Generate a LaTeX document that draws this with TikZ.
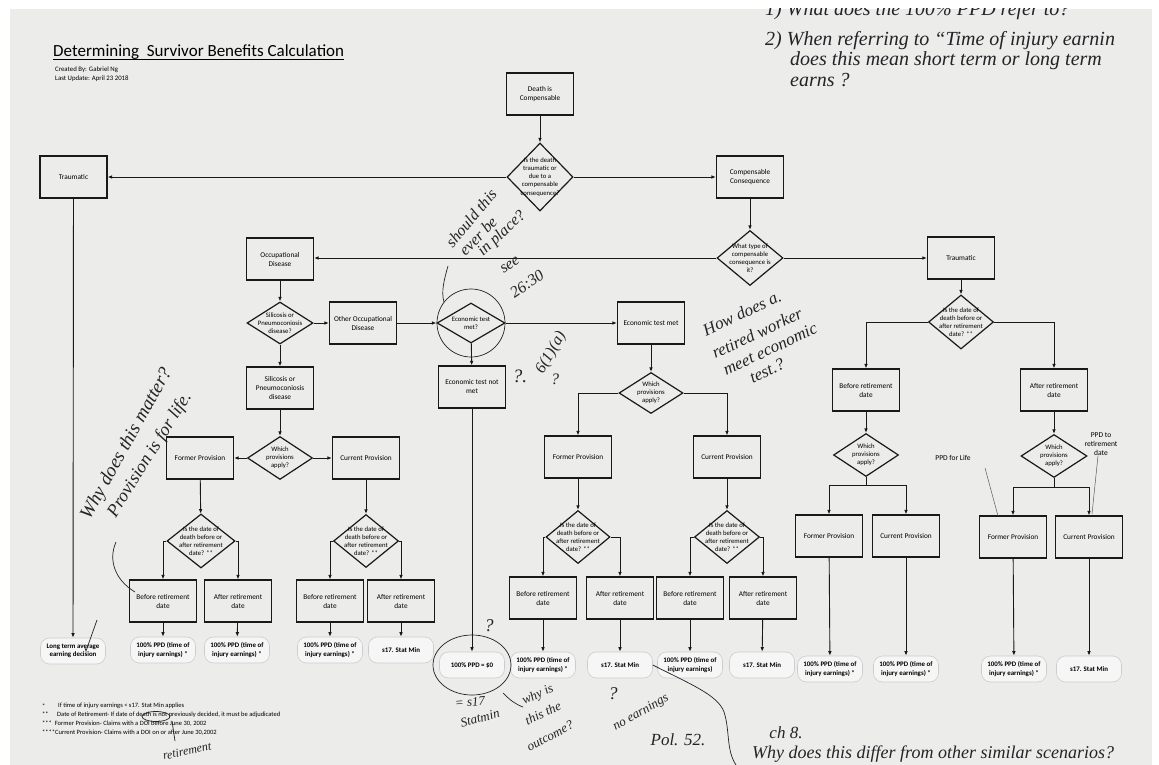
\documentclass[tikz,border=0pt]{standalone}
\usepackage{fontspec}
\setmainfont{Carlito}
\newfontfamily\handfont{Liberation Serif}
\usetikzlibrary{shapes.geometric,arrows.meta}
\definecolor{paper}{RGB}{236,236,234}
\definecolor{ink}{RGB}{25,25,25}
\definecolor{pen}{RGB}{35,35,40}
\tikzset{
  box/.style={draw=ink, line width=1.2pt, minimum width=67pt, minimum height=42pt, inner sep=1pt, align=center, font=\fontsize{7.3}{9}\selectfont},
  dia/.style={draw=ink, line width=1.2pt, diamond, inner sep=0pt},
  dtext/.style={font=\fontsize{6.7}{8.2}\selectfont, align=center, inner sep=0pt},
  term/.style={draw=gray!40, fill=white!55!paper, line width=0.6pt, rounded corners=9pt, minimum width=65pt, minimum height=26pt, inner sep=1pt, align=center, font=\bfseries\fontsize{6.9}{8.3}\selectfont},
  arr/.style={draw=ink, line width=0.9pt, -{Latex[length=4.5pt,width=3.6pt]}},
  ln/.style={draw=ink, line width=0.9pt},
  hand/.style={text=pen, font=\handfont\itshape\fontsize{16}{17}\selectfont, inner sep=0pt},
  pline/.style={draw=pen, line width=0.7pt},
  note/.style={font=\fontsize{6.5}{8}\selectfont, inner sep=0pt, anchor=west},
  glab/.style={font=\fontsize{7.5}{9}\selectfont, align=center, inner sep=0pt},
  gline/.style={draw=gray!70!black, line width=0.5pt},
}
\newcommand\dnode[5]{\node[dia, minimum width=#3, minimum height=#4] (#1) at #2 {};
  \node[dtext] (#1t) at (#1) {#5};}
\begin{document}
\begin{tikzpicture}[x=1pt,y=-1pt]
\useasboundingbox (0,0) rectangle (1159,765);
\fill[white] (0,0) rectangle (1159,765);
\fill[paper] (10,9) rectangle (1152,765);

% title
\node[anchor=base west, inner sep=0pt, font=\fontsize{17}{20}\selectfont] (title) at (53,57) {Determining\ \ Survivor Benefits Calculation};
\draw[line width=0.8pt] ([yshift=-2pt]title.base west) -- ([yshift=-2pt]title.base east);
\node[note, font=\fontsize{6.8}{8}\selectfont] (cb) at (55,70) {Created By: Gabriel Ng};
\node[note, font=\fontsize{6.8}{8}\selectfont] (lu) at (55,78.5) {Last Update: April 23 2018};

% top part
\node[box] (dc) at (540,94) {Death is\\Compensable};
\dnode{d1}{(540,177)}{66pt}{68pt}{Is the death\\traumatic or\\due to a\\compensable\\consequence?}
\node[box] (trL) at (73.5,177) {Traumatic};
\node[box] (cc) at (750,177) {Compensable\\Consequence};
\dnode{d2}{(750,258)}{66pt}{55pt}{What type of\\compensable\\consequence is\\it?}
\node[box] (trR) at (961,258) {Traumatic};
\node[box] (od) at (280,259) {Occupational\\Disease};
\dnode{dsil}{(280,323)}{66pt}{42pt}{Silicosis or\\Pneumoconiosis\\disease?}
\node[box] (ood) at (363,323) {Other Occupational\\Disease};
\dnode{dec}{(471,323)}{68pt}{40pt}{Economic test\\met?}
\node[box] (etm) at (651,323) {Economic test met};
\node[box] (etn) at (472,387) {Economic test not\\met};
\node[box] (sil) at (280,388) {Silicosis or\\Pneumoconiosis\\disease};

% left branch
\dnode{wpA}{(280,458)}{65pt}{43pt}{Which\\provisions\\apply?}
\node[box] (fpA) at (200,458) {Former Provision};
\node[box] (cpA) at (366,458) {Current Provision};
\dnode{ddA1}{(201,541)}{68pt}{54pt}{Is the date of\\death before or\\after retirement\\date? **}
\dnode{ddA2}{(366,541)}{65pt}{53pt}{Is the date of\\death before or\\after retirement\\date? **}
\node[box] (brA1) at (163,601) {Before retirement\\date};
\node[box] (arA1) at (238,601) {After retirement\\date};
\node[box] (brA2) at (330,601) {Before retirement\\date};
\node[box] (arA2) at (401,601) {After retirement\\date};
\node[term] (tLT) at (73,651) {Long term average\\earning decision};
\node[term] (tA1) at (163,650) {100\% PPD (time of\\injury earnings) *};
\node[term] (tA2) at (237,650) {100\% PPD (time of\\injury earnings) *};
\node[term] (tA3) at (330,650) {100\% PPD (time of\\injury earnings) *};
\node[term] (tA4) at (401,650) {s17. Stat Min};

% middle branch
\node[term] (t0) at (472,665) {100\% PPD = \$0};
\dnode{wpB}{(651,393)}{64pt}{41pt}{Which\\provisions\\apply?}
\node[box] (fpB) at (578,457) {Former Provision};
\node[box] (cpB) at (727,457) {Current Provision};
\dnode{ddB1}{(578,537)}{64pt}{53pt}{Is the date of\\death before or\\after retirement\\date? **}
\dnode{ddB2}{(727,537)}{65pt}{53pt}{Is the date of\\death before or\\after retirement\\date? **}
\node[box] (brB1) at (543,598) {Before retirement\\date};
\node[box] (arB1) at (620,598) {After retirement\\date};
\node[box] (brB2) at (690,598) {Before retirement\\date};
\node[box] (arB2) at (763,598) {After retirement\\date};
\node[term] (tB1) at (543,665) {100\% PPD (time of\\injury earnings) *};
\node[term] (tB2) at (620,665) {s17. Stat Min};
\node[term] (tB3) at (690,665) {100\% PPD (time of\\injury earnings)};
\node[term] (tB4) at (762,665) {s17. Stat Min};

% right branch
\dnode{ddC}{(961,322)}{65pt}{54pt}{Is the date of\\death before or\\after retirement\\date? **}
\node[box] (brC) at (866,390) {Before retirement\\date};
\node[box] (arC) at (1054,390) {After retirement\\date};
\dnode{wpC1}{(866,455)}{65pt}{43pt}{Which\\provisions\\apply?}
\dnode{wpC2}{(1054,456)}{66pt}{43pt}{Which\\provisions\\apply?}
\coordinate (jC1) at (866,485);
\coordinate (jC2) at (1054,487);
\node[box] (fpC1) at (829,536) {Former Provision};
\node[box] (cpC1) at (906,536) {Current Provision};
\node[box] (fpC2) at (1013,537) {Former Provision};
\node[box] (cpC2) at (1089,537) {Current Provision};
\node[term] (tC1) at (830,669) {100\% PPD (time of\\injury earnings) *};
\node[term] (tC2) at (906,669) {100\% PPD (time of\\injury earnings) *};
\node[term] (tC3) at (1014,669) {100\% PPD (time of\\injury earnings) *};
\node[term] (tC4) at (1089,669) {s17. Stat Min};

\node[glab] (ppdl) at (953,458) {PPD for Life};
\node[glab] (ppdr) at (1101,444) {PPD to\\retirement\\date};
\coordinate (pl1) at (985,468);
\coordinate (pl2) at (998,516);
\coordinate (pr2) at (1092,514);
\draw[gline] (pl1) -- (pl2);
\draw[gline] ([xshift=-3pt]ppdr.south) -- (pr2);

% connectors top
\draw[arr] (dc) -- (d1);
\draw[arr] (d1.west) -- (trL.east);
\draw[arr] (d1.east) -- (cc.west);
\draw[arr] (cc) -- (d2);
\draw[arr] (d2.east) -- (trR.west);
\draw[arr] (d2.west) -- (d2.west -| od.east);
\draw[arr] (od) -- (dsil);
\draw[arr] (dsil.east) -- (ood.west);
\draw[arr] (dsil) -- (sil);
\draw[arr] (ood.east) -- (dec.west);
\draw[arr] (dec.east) -- (etm.west);
\draw[arr] (dec) -- (etn);
\draw[arr] (etn) -- (t0);
\draw[arr] (trL) -- (tLT);

% left
\draw[arr] (sil) -- (wpA);
\draw[arr] (wpA.west) -- (fpA.east);
\draw[arr] (wpA.east) -- (cpA.west);
\draw[arr] (fpA) -- (ddA1);
\draw[arr] (cpA) -- (ddA2);
\draw[arr] (ddA1.west) -| (brA1.north);
\draw[arr] (ddA1.east) -| (arA1.north);
\draw[arr] (ddA2.west) -| (brA2.north);
\draw[arr] (ddA2.east) -| (arA2.north);
\draw[arr] (brA1) -- (tA1);
\draw[arr] (arA1) -- (tA2);
\draw[arr] (brA2) -- (tA3);
\draw[arr] (arA2) -- (tA4);

% middle
\draw[arr] (etm) -- (wpB);
\draw[arr] (wpB.west) -| (fpB.north);
\draw[arr] (wpB.east) -| (cpB.north);
\draw[arr] (fpB) -- (ddB1);
\draw[arr] (cpB) -- (ddB2);
\draw[arr] (ddB1.west) -| (brB1.north);
\draw[arr] (ddB1.east) -| (arB1.north);
\draw[arr] (ddB2.west) -| (brB2.north);
\draw[arr] (ddB2.east) -| (arB2.north);
\draw[arr] (brB1) -- (tB1);
\draw[arr] (arB1) -- (tB2);
\draw[arr] (brB2) -- (tB3);
\draw[arr] (arB2) -- (tB4);

% right
\draw[arr] (trR) -- (ddC);
\draw[arr] (ddC.west) -| (brC.north);
\draw[arr] (ddC.east) -| (arC.north);
\draw[arr] (brC) -- (wpC1);
\draw[arr] (arC) -- (wpC2);
\draw[ln] (wpC1.south) -- (jC1);
\draw[ln] (wpC2.south) -- (jC2);
\draw[arr] (jC1) -| (fpC1.north);
\draw[arr] (jC1) -| (cpC1.north);
\draw[arr] (jC2) -| (fpC2.north);
\draw[arr] (jC2) -| (cpC2.north);
\draw[arr] (fpC1) -- (tC1);
\draw[arr] (cpC1) -- (tC2);
\draw[arr] (fpC2) -- (tC3);
\draw[arr] (cpC2) -- (tC4);

% footnotes
\node[note] (f1s) at (42,706) {*};
\node[note] (f1) at (58,706) {If time of injury earnings < s17. Stat Min applies};
\node[note] (f2s) at (42,714.5) {**};
\node[note] (f2) at (57,714.5) {Date of Retirement- If date of death is not previously decided, it must be adjudicated};
\node[note] (f3) at (42,723.5) {***\ \ Former Provision- Claims with a DOI before June 30, 2002};
\node[note] (f4) at (42,732.5) {****Current Provision- Claims with a DOI on or after June 30,2002};

% handwriting
\begin{scope}
\clip (10,9) rectangle (1152,765);
\node[hand, anchor=west, font=\handfont\itshape\fontsize{20}{20}\selectfont] (h1) at (765,11) {1) What does the 100\% PPD refer to?};
\node[hand, anchor=west, font=\handfont\itshape\fontsize{20}{20}\selectfont] (h2) at (765,41) {2) When referring to “Time of injury earnin};
\node[hand, anchor=west, font=\handfont\itshape\fontsize{20}{20}\selectfont] (h3) at (790,61) {does this mean short term or long term};
\node[hand, anchor=west, font=\handfont\itshape\fontsize{20}{20}\selectfont] (h4) at (790,80) {earns ?};
\end{scope}
\node[hand, anchor=west, font=\handfont\itshape\fontsize{18}{20}\selectfont] (h5) at (752,754) {Why does this differ from other similar scenarios?};

\node[hand, rotate=50] (hs1) at (471,218) {should this};
\node[hand, rotate=46] (hs2) at (478,236) {ever be};
\node[hand, rotate=43] (hs3) at (502,234) {in place?};
\draw[pline] (448,266) .. controls (444,280) and (441,292) .. (444,302);
\draw[pline] (dec.center) ellipse [x radius=34, y radius=34];
\node[hand, rotate=35] (hsee) at (510,265) {see};
\node[hand, rotate=35] (h2630) at (527,284) {26:30};
\node[hand, font=\handfont\itshape\fontsize{19}{19}\selectfont] (hq1) at (520,376) {?.};
\node[hand, rotate=60] (h61a) at (551,353) {6(1)(a)};
\node[hand] (hq2) at (555,379) {?};
\node[hand, rotate=25, font=\handfont\itshape\fontsize{17}{17}\selectfont] (hh1) at (742,313) {How does a.};
\node[hand, rotate=25, font=\handfont\itshape\fontsize{17}{17}\selectfont] (hh2) at (757,333) {retired worker};
\node[hand, rotate=25, font=\handfont\itshape\fontsize{17}{17}\selectfont] (hh3) at (770,349) {meet economic};
\node[hand, rotate=25, font=\handfont\itshape\fontsize{17}{17}\selectfont] (hh4) at (767,371) {test.?};
\node[hand, rotate=61, font=\handfont\itshape\fontsize{19}{19}\selectfont] (hw1) at (127,444) {Why does this matter?};
\node[hand, rotate=58, font=\handfont\itshape\fontsize{18}{18}\selectfont] (hw2) at (150,455) {Provision is for life.};
\draw[pline] (116,542) .. controls (108,560) and (115,580) .. (135,592);
\draw[pline] (84,645) -- (86,651) -- (97,620);
\draw[pline] (156,716.5) ellipse [x radius=14, y radius=5];
\draw[pline] (172,721) -- (175,741);
\node[hand, rotate=12, font=\handfont\itshape\fontsize{12}{12}\selectfont] (hret) at (187,751) {retirement};
\node[hand, font=\handfont\itshape\fontsize{18}{18}\selectfont] (hq3) at (489,626) {?};
\draw[pline] (t0.center) ellipse [x radius=39, y radius=30];
\draw[pline] (503,693) .. controls (510,700) and (515,704) .. (523,707);
\node[hand, rotate=5, font=\handfont\itshape\fontsize{13}{13}\selectfont] (hs17) at (470,702) {= s17};
\node[hand, rotate=15, font=\handfont\itshape\fontsize{13}{13}\selectfont] (hsm) at (480,718) {Statmin};
\node[hand, rotate=25, font=\handfont\itshape\fontsize{13}{13}\selectfont] (hwy1) at (538,695) {why is};
\node[hand, rotate=25, font=\handfont\itshape\fontsize{13}{13}\selectfont] (hwy2) at (543,713) {this the};
\node[hand, rotate=28, font=\handfont\itshape\fontsize{13}{13}\selectfont] (hwy3) at (550,736) {outcome?};
\node[hand, font=\handfont\itshape\fontsize{18}{18}\selectfont] (hq4) at (613,694) {?};
\node[hand, rotate=30, font=\handfont\itshape\fontsize{13}{13}\selectfont] (hne) at (641,713) {no earnings};
\draw[pline] (tB2.east) .. controls (690,684) and (718,695) .. (724,712) .. controls (730,730) and (726,750) .. (736,765);
\node[hand, font=\handfont\itshape\fontsize{17}{17}\selectfont] (hpol) at (678,740) {Pol. 52.};
\node[hand, font=\handfont\itshape\fontsize{17}{17}\selectfont] (hch) at (786,733) {ch 8.};
\end{tikzpicture}
\end{document}
